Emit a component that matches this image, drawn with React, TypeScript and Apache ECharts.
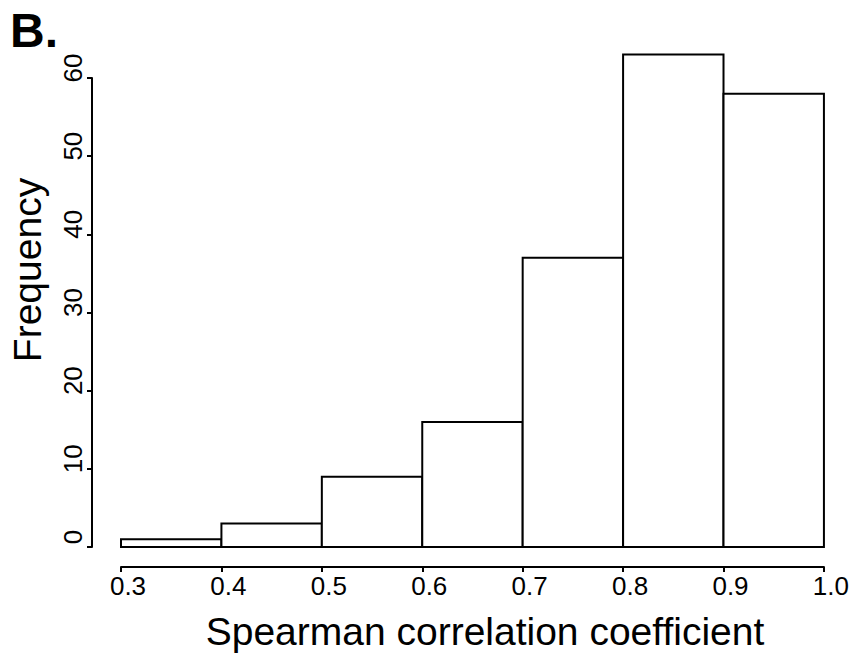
import React, { useEffect, useRef } from "react";
import * as echarts from "echarts";

const binStarts = [0.3, 0.4, 0.5, 0.6, 0.7, 0.8, 0.9];
const binEnds = [0.4, 0.5, 0.6, 0.7, 0.8, 0.9, 1.0];
const counts = [1, 3, 9, 16, 37, 63, 58];
const xTicks = [0.3, 0.4, 0.5, 0.6, 0.7, 0.8, 0.9, 1.0];
const yTicks = [0, 10, 20, 30, 40, 50, 60];

const FONT = "Liberation Sans, Arial, Helvetica, sans-serif";

export default function App() {
  const ref = useRef<HTMLDivElement>(null);
  useEffect(() => {
    if (!ref.current) return;
    const chart = echarts.init(ref.current, undefined, { renderer: "svg" });
    const data = binStarts.map((s, i) => [s, binEnds[i], counts[i]]);
    chart.setOption({
      animation: false,
      backgroundColor: "#ffffff",
      textStyle: { fontFamily: FONT },
      grid: { left: 121, top: 78, width: 704, height: 469 },
      xAxis: {
        type: "value",
        min: xTicks[0],
        max: xTicks[xTicks.length - 1],
        interval: 0.1,
        offset: 20,
        axisLine: { show: true, onZero: false, lineStyle: { color: "#000", width: 2 } },
        axisTick: { show: true, length: 5, lineStyle: { color: "#000", width: 2 } },
        axisLabel: {
          color: "#000",
          fontSize: 26,
          fontFamily: FONT,
          margin: 6,
          padding: [0, 0, 0, 14],
          formatter: (v: number) => v.toFixed(1),
        },
        splitLine: { show: false },
      },
      yAxis: {
        type: "value",
        min: yTicks[0],
        max: yTicks[yTicks.length - 1],
        interval: 10,
        offset: 29,
        axisLine: { show: true, onZero: false, lineStyle: { color: "#000", width: 2 } },
        axisTick: { show: true, length: 5, lineStyle: { color: "#000", width: 2 } },
        axisLabel: {
          color: "#000",
          fontSize: 26,
          fontFamily: FONT,
          rotate: 90,
          margin: 6,
          padding: [0, 0, 0, 20],
        },
        splitLine: { show: false },
      },
      graphic: [
        {
          type: "text",
          left: 10,
          top: 6,
          style: {
            text: "B.",
            font: `bold 48px ${FONT}`,
            fill: "#000",
          },
        },
        {
          type: "text",
          x: 27,
          y: 270,
          rotation: Math.PI / 2,
          style: {
            text: "Frequency",
            font: `39px ${FONT}`,
            fill: "#000",
            align: "center",
            verticalAlign: "middle",
          },
        },
        {
          type: "text",
          x: 485,
          y: 631,
          style: {
            text: "Spearman correlation coefficient",
            font: `39px ${FONT}`,
            fill: "#000",
            align: "center",
            verticalAlign: "middle",
          },
        },
      ],
      series: [
        {
          type: "custom",
          clip: false,
          data,
          encode: { x: [0, 1], y: 2 },
          renderItem: (params: any, api: any) => {
            const s = api.value(0);
            const e = api.value(1);
            const c = api.value(2);
            const p1 = api.coord([s, c]);
            const p2 = api.coord([e, 0]);
            return {
              type: "rect",
              shape: { x: p1[0], y: p1[1], width: p2[0] - p1[0], height: p2[1] - p1[1] },
              style: { fill: "#fff", stroke: "#000", lineWidth: 2 },
            };
          },
        },
      ],
    });
    return () => chart.dispose();
  }, []);
  return (
    <div
      ref={ref}
      style={{ position: "fixed", left: 0, top: 0, width: 852, height: 653, background: "#fff" }}
    />
  );
}
